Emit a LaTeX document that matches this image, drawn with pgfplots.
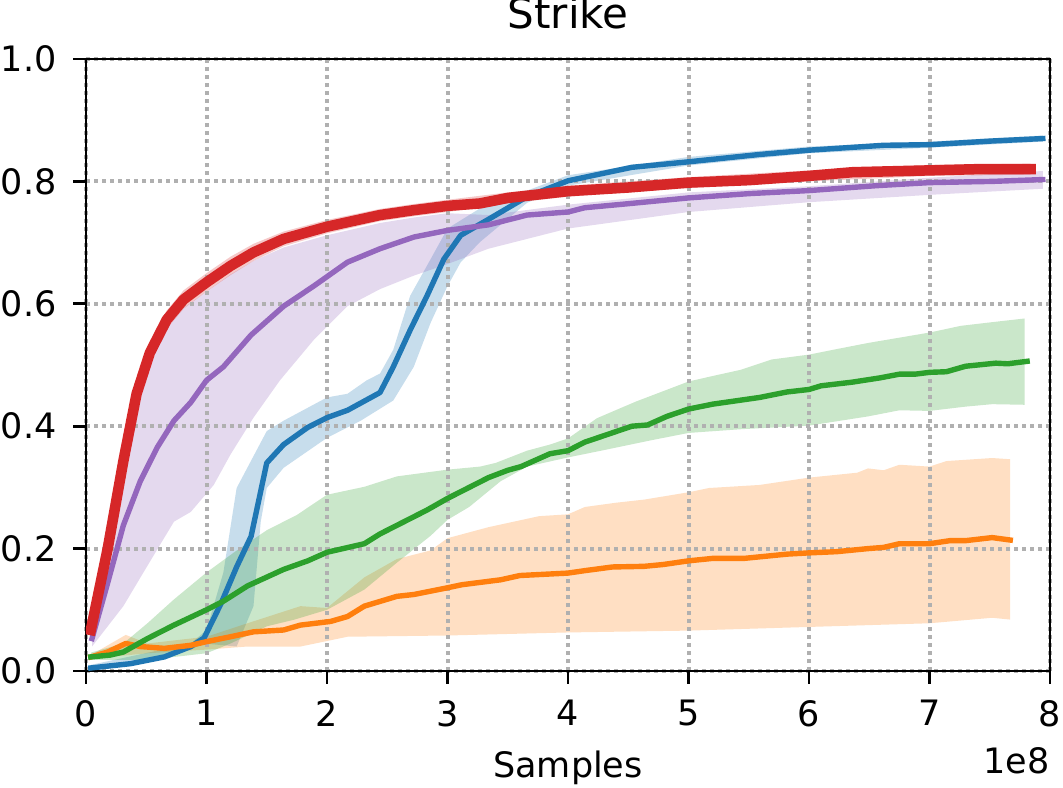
\documentclass[border=0pt]{standalone}
\usepackage{pgfplots}
\pgfplotsset{compat=1.18}
\usepgfplotslibrary{fillbetween}
\usepackage{fontspec}
\setmainfont{DejaVu Sans}
\definecolor{tabblue}{HTML}{1F77B4}
\definecolor{taborange}{HTML}{FF7F0E}
\definecolor{tabgreen}{HTML}{2CA02C}
\definecolor{tabred}{HTML}{D62728}
\definecolor{tabpurple}{HTML}{9467BD}
\definecolor{gridgray}{HTML}{B0B0B0}
\begin{document}
\begin{tikzpicture}
\begin{axis}[
  name=ax,
  set layers,
  scale only axis, width=482pt, height=306pt,
  xmin=0, xmax=8, ymin=0, ymax=1,
  xtick={0,1,2,3,4,5,6,7,8}, ytick={0,0.2,0.4,0.6,0.8,1.0},
  /pgf/number format/assume math mode=true,
  scaled x ticks=false,
  y tick label style={/pgf/number format/fixed, /pgf/number format/fixed zerofill, /pgf/number format/precision=1},
  tick label style={font=\fontsize{17.5}{21}\selectfont, inner sep=0pt},
  xticklabel style={anchor=north},
  yticklabel style={anchor=east},
  xticklabel shift=8.2pt,
  yticklabel shift=8.2pt,
  tick align=outside, major tick length=6.3pt,
  tick pos=left,
  every tick/.style={black, line width=1.4pt},
  axis line style={line width=1.4pt},
  grid=major,
  major grid style={color=gridgray, line width=2pt, dash pattern=on 2pt off 2pt},
  title={Strike},
  every axis title/.style={font=\fontsize{21}{25}\selectfont, at={(0.5,1)}, anchor=base, yshift=15pt, inner sep=0pt},
  xlabel={Samples},
  every axis x label/.style={font=\fontsize{17.5}{21}\selectfont, at={(0.5,0)}, anchor=base, yshift=-53pt, inner sep=0pt},
  clip mode=individual,
  fill between/on layer=axis background,
  every axis plot/.append style={line join=round, line cap=rect},
]
% ---------- bands ----------
% blue
\addplot[draw=none, name path=bu] coordinates {(0.04,0.01)(0.87,0.045)(1.0,0.067)(1.14,0.161)(1.25,0.299)(1.5,0.392)(1.64,0.409)(2.0,0.447)(2.17,0.453)(2.33,0.475)(2.44,0.486)(2.55,0.525)(2.69,0.613)(2.86,0.673)(3.0,0.723)(3.27,0.756)(3.66,0.785)(4.0,0.81)(5.0,0.84)(6.0,0.857)(7.0,0.865)(7.94,0.875)};
\addplot[draw=none, name path=bl] coordinates {(0.04,0.0)(0.87,0.035)(0.98,0.045)(1.25,0.04)(1.39,0.106)(1.45,0.244)(1.5,0.299)(1.64,0.332)(2.0,0.381)(2.28,0.409)(2.55,0.442)(2.72,0.497)(2.86,0.569)(3.0,0.629)(3.11,0.668)(3.27,0.701)(3.66,0.765)(4.0,0.793)(5.0,0.826)(6.0,0.846)(7.0,0.855)(7.94,0.865)};
\addplot[fill=tabblue, fill opacity=0.25, draw=none] fill between[of=bu and bl];
% orange
\addplot[draw=none, name path=ou] coordinates {(0.04,0.026)(0.33,0.059)(0.51,0.045)(1.0,0.056)(1.34,0.078)(1.78,0.106)(2.0,0.103)(2.31,0.153)(2.58,0.183)(2.86,0.197)(3.0,0.217)(3.34,0.235)(3.76,0.253)(4.0,0.256)(4.14,0.268)(4.4,0.275)(4.63,0.28)(5.0,0.292)(5.17,0.299)(5.59,0.304)(6.0,0.316)(6.4,0.324)(6.49,0.331)(6.62,0.328)(6.75,0.337)(7.0,0.334)(7.14,0.343)(7.52,0.348)(7.67,0.346)};
\addplot[draw=none, name path=ol] coordinates {(0.04,0.02)(0.51,0.029)(1.0,0.035)(1.34,0.04)(1.78,0.04)(2.17,0.056)(3.0,0.058)(4.0,0.063)(5.0,0.066)(6.0,0.072)(7.0,0.078)(7.52,0.087)(7.67,0.084)};
\addplot[fill=taborange, fill opacity=0.25, draw=none] fill between[of=ou and ol];
% green
\addplot[draw=none, name path=gu] coordinates {(0.04,0.03)(0.31,0.045)(0.51,0.078)(0.73,0.117)(1.0,0.161)(1.23,0.194)(1.5,0.23)(1.75,0.255)(2.0,0.288)(2.31,0.301)(2.58,0.318)(3.0,0.329)(3.27,0.334)(3.4,0.34)(3.66,0.36)(3.85,0.37)(4.0,0.38)(4.24,0.413)(4.56,0.44)(5.0,0.473)(5.2,0.482)(5.43,0.492)(5.69,0.509)(6.0,0.517)(6.23,0.526)(6.49,0.536)(7.0,0.553)(7.26,0.564)(7.52,0.57)(7.79,0.576)};
\addplot[draw=none, name path=gl] coordinates {(0.04,0.018)(0.51,0.018)(1.0,0.029)(1.2,0.045)(1.5,0.073)(1.73,0.084)(2.0,0.1)(2.31,0.133)(2.58,0.177)(2.86,0.221)(3.0,0.247)(3.18,0.268)(3.44,0.31)(3.66,0.334)(4.0,0.349)(4.3,0.361)(4.69,0.377)(5.0,0.389)(5.43,0.395)(6.0,0.401)(6.49,0.416)(6.75,0.426)(7.0,0.425)(7.3,0.432)(7.52,0.436)(7.79,0.435)};
\addplot[fill=tabgreen, fill opacity=0.25, draw=none] fill between[of=gu and gl];
% purple
\addplot[draw=none, name path=pu] coordinates {(0.05,0.065)(0.18,0.19)(0.31,0.33)(0.42,0.44)(0.53,0.505)(0.67,0.56)(0.81,0.593)(1.0,0.62)(1.2,0.648)(1.39,0.67)(1.64,0.692)(2.0,0.712)(2.44,0.732)(2.72,0.741)(3.0,0.748)(3.34,0.745)(4.0,0.762)(5.0,0.782)(6.0,0.792)(7.0,0.806)(7.94,0.817)};
\addplot[draw=none, name path=pl] coordinates {(0.05,0.04)(0.31,0.106)(0.51,0.172)(0.73,0.244)(0.87,0.26)(1.06,0.304)(1.2,0.354)(1.39,0.414)(1.61,0.475)(1.89,0.541)(2.17,0.596)(2.44,0.624)(2.72,0.646)(3.0,0.665)(3.34,0.69)(4.0,0.723)(5.0,0.75)(6.0,0.766)(7.0,0.778)(7.94,0.788)};
\addplot[fill=tabpurple, fill opacity=0.25, draw=none] fill between[of=pu and pl];
% red
\addplot[draw=none, name path=ru] coordinates {(0.04,0.08)(0.18,0.215)(0.31,0.358)(0.42,0.468)(0.53,0.535)(0.67,0.589)(0.81,0.622)(1.0,0.65)(1.2,0.677)(1.39,0.698)(1.64,0.718)(2.0,0.737)(2.44,0.755)(2.72,0.763)(3.0,0.77)(3.5,0.782)(4.0,0.793)(5.0,0.807)(6.0,0.818)(7.0,0.827)(7.84,0.829)};
\addplot[draw=none, name path=rl] coordinates {(0.04,0.055)(0.18,0.185)(0.31,0.328)(0.42,0.438)(0.53,0.505)(0.67,0.559)(0.81,0.592)(1.0,0.62)(1.2,0.647)(1.39,0.67)(1.64,0.694)(2.0,0.715)(2.44,0.735)(2.72,0.743)(3.0,0.75)(3.5,0.764)(4.0,0.775)(5.0,0.789)(6.0,0.8)(7.0,0.809)(7.84,0.811)};
\addplot[fill=tabred, fill opacity=0.25, draw=none] fill between[of=ru and rl];
% ---------- mean lines ----------
\addplot[tabblue, line width=2.7pt] coordinates {(0.04,0.005)(0.37,0.012)(0.65,0.023)(0.87,0.04)(0.98,0.054)(1.12,0.11)(1.25,0.17)(1.37,0.22)(1.5,0.34)(1.64,0.37)(1.84,0.398)(2.0,0.414)(2.17,0.426)(2.44,0.455)(2.55,0.497)(2.69,0.557)(2.83,0.613)(2.97,0.673)(3.11,0.712)(3.34,0.738)(3.66,0.775)(4.0,0.801)(4.53,0.823)(5.0,0.832)(5.59,0.844)(6.0,0.851)(6.62,0.859)(7.0,0.86)(7.52,0.866)(7.94,0.87)};
\addplot[taborange, line width=2.7pt] coordinates {(0.04,0.023)(0.18,0.031)(0.33,0.045)(0.45,0.04)(0.65,0.037)(0.87,0.042)(1.0,0.048)(1.2,0.056)(1.39,0.064)(1.64,0.067)(1.78,0.075)(2.03,0.081)(2.17,0.089)(2.31,0.106)(2.58,0.122)(2.72,0.125)(3.0,0.136)(3.12,0.141)(3.44,0.149)(3.6,0.156)(4.0,0.16)(4.14,0.164)(4.37,0.17)(4.63,0.171)(4.79,0.174)(5.0,0.18)(5.2,0.184)(5.46,0.184)(5.82,0.191)(6.0,0.193)(6.23,0.195)(6.49,0.2)(6.62,0.202)(6.75,0.208)(7.0,0.208)(7.17,0.213)(7.3,0.213)(7.52,0.218)(7.67,0.214)};
\addplot[tabgreen, line width=2.7pt] coordinates {(0.04,0.023)(0.2,0.026)(0.31,0.031)(0.51,0.053)(0.73,0.075)(1.0,0.1)(1.14,0.114)(1.34,0.139)(1.64,0.166)(1.84,0.18)(2.0,0.194)(2.31,0.208)(2.44,0.224)(2.72,0.252)(2.83,0.263)(3.0,0.282)(3.34,0.316)(3.5,0.328)(3.61,0.334)(3.85,0.355)(4.0,0.36)(4.14,0.374)(4.53,0.4)(4.66,0.402)(4.82,0.416)(5.0,0.428)(5.2,0.436)(5.59,0.447)(5.82,0.456)(6.0,0.46)(6.1,0.466)(6.36,0.472)(6.59,0.479)(6.75,0.485)(6.88,0.485)(7.0,0.488)(7.14,0.489)(7.3,0.498)(7.55,0.503)(7.65,0.502)(7.81,0.506)};
\addplot[tabpurple, line width=2.7pt] coordinates {(0.05,0.053)(0.18,0.144)(0.31,0.238)(0.45,0.31)(0.59,0.365)(0.73,0.409)(0.87,0.439)(1.0,0.475)(1.14,0.497)(1.37,0.549)(1.64,0.596)(1.89,0.629)(2.17,0.668)(2.44,0.69)(2.72,0.709)(3.0,0.72)(3.34,0.729)(3.66,0.745)(4.0,0.75)(4.14,0.757)(4.47,0.763)(5.0,0.773)(5.5,0.78)(6.0,0.785)(6.56,0.793)(7.0,0.798)(7.52,0.8)(7.94,0.803)};
\addplot[tabred, line width=5.25pt] coordinates {(0.04,0.067)(0.18,0.20)(0.31,0.343)(0.42,0.453)(0.53,0.52)(0.67,0.574)(0.81,0.607)(1.0,0.635)(1.2,0.662)(1.39,0.684)(1.64,0.706)(2.0,0.726)(2.44,0.745)(2.72,0.753)(3.0,0.76)(3.27,0.764)(3.5,0.773)(4.0,0.784)(4.5,0.79)(5.0,0.798)(5.5,0.802)(6.0,0.809)(6.36,0.815)(7.0,0.818)(7.4,0.82)(7.84,0.82)};
\end{axis}
\node[anchor=base east, inner sep=0pt, font=\fontsize{17.5}{21}\selectfont] at ([yshift=-51pt]ax.south east) {1e8};
\pgfresetboundingbox
\useasboundingbox (-43pt,-58pt) rectangle (488.5pt,335.5pt);
\end{tikzpicture}
\end{document}
